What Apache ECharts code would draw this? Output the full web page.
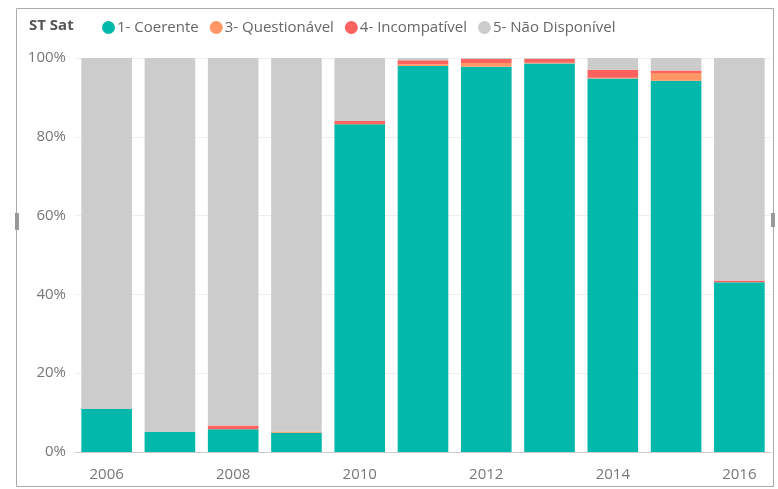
<!DOCTYPE html>
<html>
<head>
<meta charset="utf-8">
<script src="https://cdn.jsdelivr.net/npm/echarts@6/dist/echarts.min.js"></script>
<style>
  html, body { margin: 0; padding: 0; background: #fff; }
  #chart { width: 778px; height: 489px; }
</style>
</head>
<body>
<div id="chart"></div>
<script>
// values (percent of each year)
const years = ["2006", "2007", "2008", "2009", "2010", "2011", "2012", "2013", "2014", "2015", "2016"];
const coerente = [10.9, 5.1, 5.8, 4.9, 83.2, 98.0, 97.8, 98.6, 94.8, 94.2, 43.1];
const questionavel = [0, 0, 0, 0.3, 0, 0.4, 0.9, 0.2, 0.2, 2.0, 0];
const incompativel = [0, 0, 0.9, 0, 0.8, 1.0, 1.1, 1.0, 2.0, 0.6, 0.4];
const naoDisponivel = [89.1, 94.9, 93.3, 94.8, 16.0, 0.6, 0.2, 0.2, 3.0, 3.2, 56.5];

const fontName = "'Open Sans', 'Noto Sans', sans-serif";

var chart = echarts.init(document.getElementById("chart"));

function bar(name, data, color) {
    return {
        name: name,
        type: "bar",
        stack: "total",
        barCategoryGap: "20%",
        data: data,
        itemStyle: { color: color },
        emphasis: { disabled: true }
    };
}

var option = {
    animation: false,
    textStyle: { fontFamily: fontName },
    title: {
        text: "ST Sat",
        left: 24,
        top: 13,
        textStyle: { fontSize: 15, fontWeight: "bold", color: "#555", fontFamily: fontName }
    },
    legend: {
        left: 97,
        top: 15,
        icon: "circle",
        itemWidth: 13,
        itemHeight: 13,
        itemGap: 11,
        textStyle: { fontSize: 15, color: "#666", padding: [0, 0, 0, -3], fontFamily: fontName },
        data: ["1- Coerente", "3- Questionável", "4- Incompatível", "5- Não Disponível"]
    },
    grid: { left: 75, right: 7, top: 58, bottom: 37 },
    xAxis: {
        type: "category",
        data: years,
        axisTick: { show: false },
        axisLine: { lineStyle: { color: "#ccc" } },
        axisLabel: { interval: 1, margin: 15, fontSize: 15, color: "#777" }
    },
    yAxis: {
        type: "value",
        min: 0,
        max: 100,
        interval: 20,
        axisLabel: { formatter: "{value}%", margin: 9, fontSize: 15, color: "#777" },
        splitLine: { lineStyle: { color: "#eee" } }
    },
    graphic: [
        // visual frame and resize handles
        { type: "rect", shape: { x: 16.5, y: 8.5, width: 757, height: 478 }, style: { fill: "none", stroke: "#aaa", lineWidth: 1 }, silent: true },
        { type: "rect", shape: { x: 15, y: 213, width: 4, height: 17 }, style: { fill: "#999" }, silent: true },
        { type: "rect", shape: { x: 771, y: 213, width: 4, height: 14 }, style: { fill: "#999" }, silent: true }
    ],
    series: [
        bar("1- Coerente", coerente, "#01B8AA"),
        bar("3- Questionável", questionavel, "#FE9666"),
        bar("4- Incompatível", incompativel, "#FD625E"),
        bar("5- Não Disponível", naoDisponivel, "#CCCCCC")
    ]
};

chart.setOption(option);
</script>
</body>
</html>
